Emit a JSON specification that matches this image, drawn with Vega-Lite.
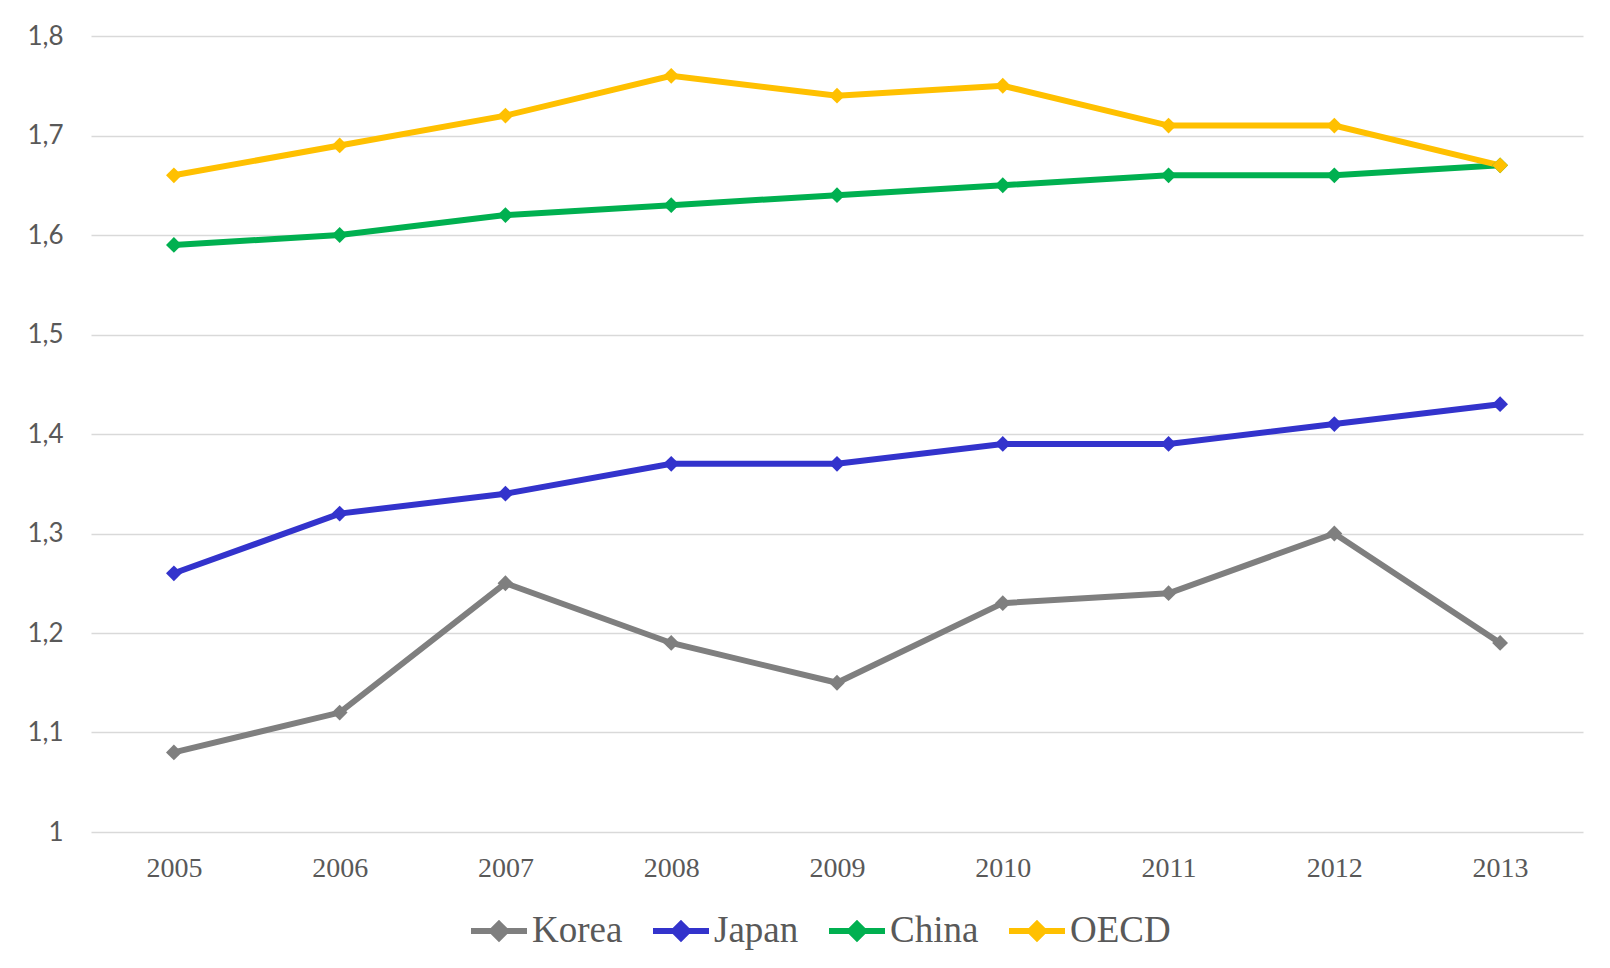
{
  "$schema": "https://vega.github.io/schema/vega-lite/v6.json",
  "autosize": "none",
  "width": 1492,
  "height": 796,
  "padding": {"left": 91, "top": 36, "right": 27, "bottom": 136},
  "background": "white",
  "config": {
    "view": {"stroke": null},
    "axis": {"labelColor": "#595959", "domain": false, "ticks": false, "title": null}
  },
  "data": {
    "values": [
      {"year": "2005", "country": "Korea", "value": 1.08},
      {"year": "2006", "country": "Korea", "value": 1.12},
      {"year": "2007", "country": "Korea", "value": 1.25},
      {"year": "2008", "country": "Korea", "value": 1.19},
      {"year": "2009", "country": "Korea", "value": 1.15},
      {"year": "2010", "country": "Korea", "value": 1.23},
      {"year": "2011", "country": "Korea", "value": 1.24},
      {"year": "2012", "country": "Korea", "value": 1.30},
      {"year": "2013", "country": "Korea", "value": 1.19},
      {"year": "2005", "country": "Japan", "value": 1.26},
      {"year": "2006", "country": "Japan", "value": 1.32},
      {"year": "2007", "country": "Japan", "value": 1.34},
      {"year": "2008", "country": "Japan", "value": 1.37},
      {"year": "2009", "country": "Japan", "value": 1.37},
      {"year": "2010", "country": "Japan", "value": 1.39},
      {"year": "2011", "country": "Japan", "value": 1.39},
      {"year": "2012", "country": "Japan", "value": 1.41},
      {"year": "2013", "country": "Japan", "value": 1.43},
      {"year": "2005", "country": "China", "value": 1.59},
      {"year": "2006", "country": "China", "value": 1.60},
      {"year": "2007", "country": "China", "value": 1.62},
      {"year": "2008", "country": "China", "value": 1.63},
      {"year": "2009", "country": "China", "value": 1.64},
      {"year": "2010", "country": "China", "value": 1.65},
      {"year": "2011", "country": "China", "value": 1.66},
      {"year": "2012", "country": "China", "value": 1.66},
      {"year": "2013", "country": "China", "value": 1.67},
      {"year": "2005", "country": "OECD", "value": 1.66},
      {"year": "2006", "country": "OECD", "value": 1.69},
      {"year": "2007", "country": "OECD", "value": 1.72},
      {"year": "2008", "country": "OECD", "value": 1.76},
      {"year": "2009", "country": "OECD", "value": 1.74},
      {"year": "2010", "country": "OECD", "value": 1.75},
      {"year": "2011", "country": "OECD", "value": 1.71},
      {"year": "2012", "country": "OECD", "value": 1.71},
      {"year": "2013", "country": "OECD", "value": 1.67}
    ]
  },
  "mark": {
    "type": "line",
    "strokeWidth": 6,
    "point": {"shape": "diamond", "filled": true, "size": 250, "opacity": 1}
  },
  "encoding": {
    "x": {
      "field": "year",
      "type": "ordinal",
      "scale": {"type": "point", "padding": 0.5},
      "axis": {
        "labelAngle": 0,
        "labelFont": "Liberation Serif",
        "labelFontSize": 28,
        "labelPadding": 22,
        "grid": false
      }
    },
    "y": {
      "field": "value",
      "type": "quantitative",
      "scale": {"domain": [1, 1.8], "nice": false, "zero": false},
      "axis": {
        "values": [1, 1.1, 1.2, 1.3, 1.4, 1.5, 1.6, 1.7, 1.8],
        "labelExpr": "replace(format(datum.value, '.1~f'), '.', ',')",
        "labelFont": "Lato",
        "labelFontSize": 26,
        "labelPadding": 28,
        "grid": true,
        "gridColor": "#d9d9d9",
        "gridWidth": 1.5
      }
    },
    "color": {
      "field": "country",
      "type": "nominal",
      "sort": ["Korea", "Japan", "China", "OECD"],
      "scale": {
        "domain": ["Korea", "Japan", "China", "OECD"],
        "range": ["#7f7f7f", "#3333cc", "#00b050", "#ffc000"]
      },
      "legend": {
        "orient": "none",
        "direction": "horizontal",
        "legendX": 377,
        "legendY": 864,
        "title": null,
        "labelFont": "Liberation Serif",
        "labelFontSize": 37,
        "labelColor": "#595959",
        "labelOffset": 2,
        "columnPadding": 18,
        "symbolType": "M-1,0L1,0M0,-0.25L0.25,0L0,0.25L-0.25,0Z",
        "symbolSize": 3136,
        "symbolStrokeWidth": 6,
        "symbolOpacity": 1
      }
    }
  }
}
